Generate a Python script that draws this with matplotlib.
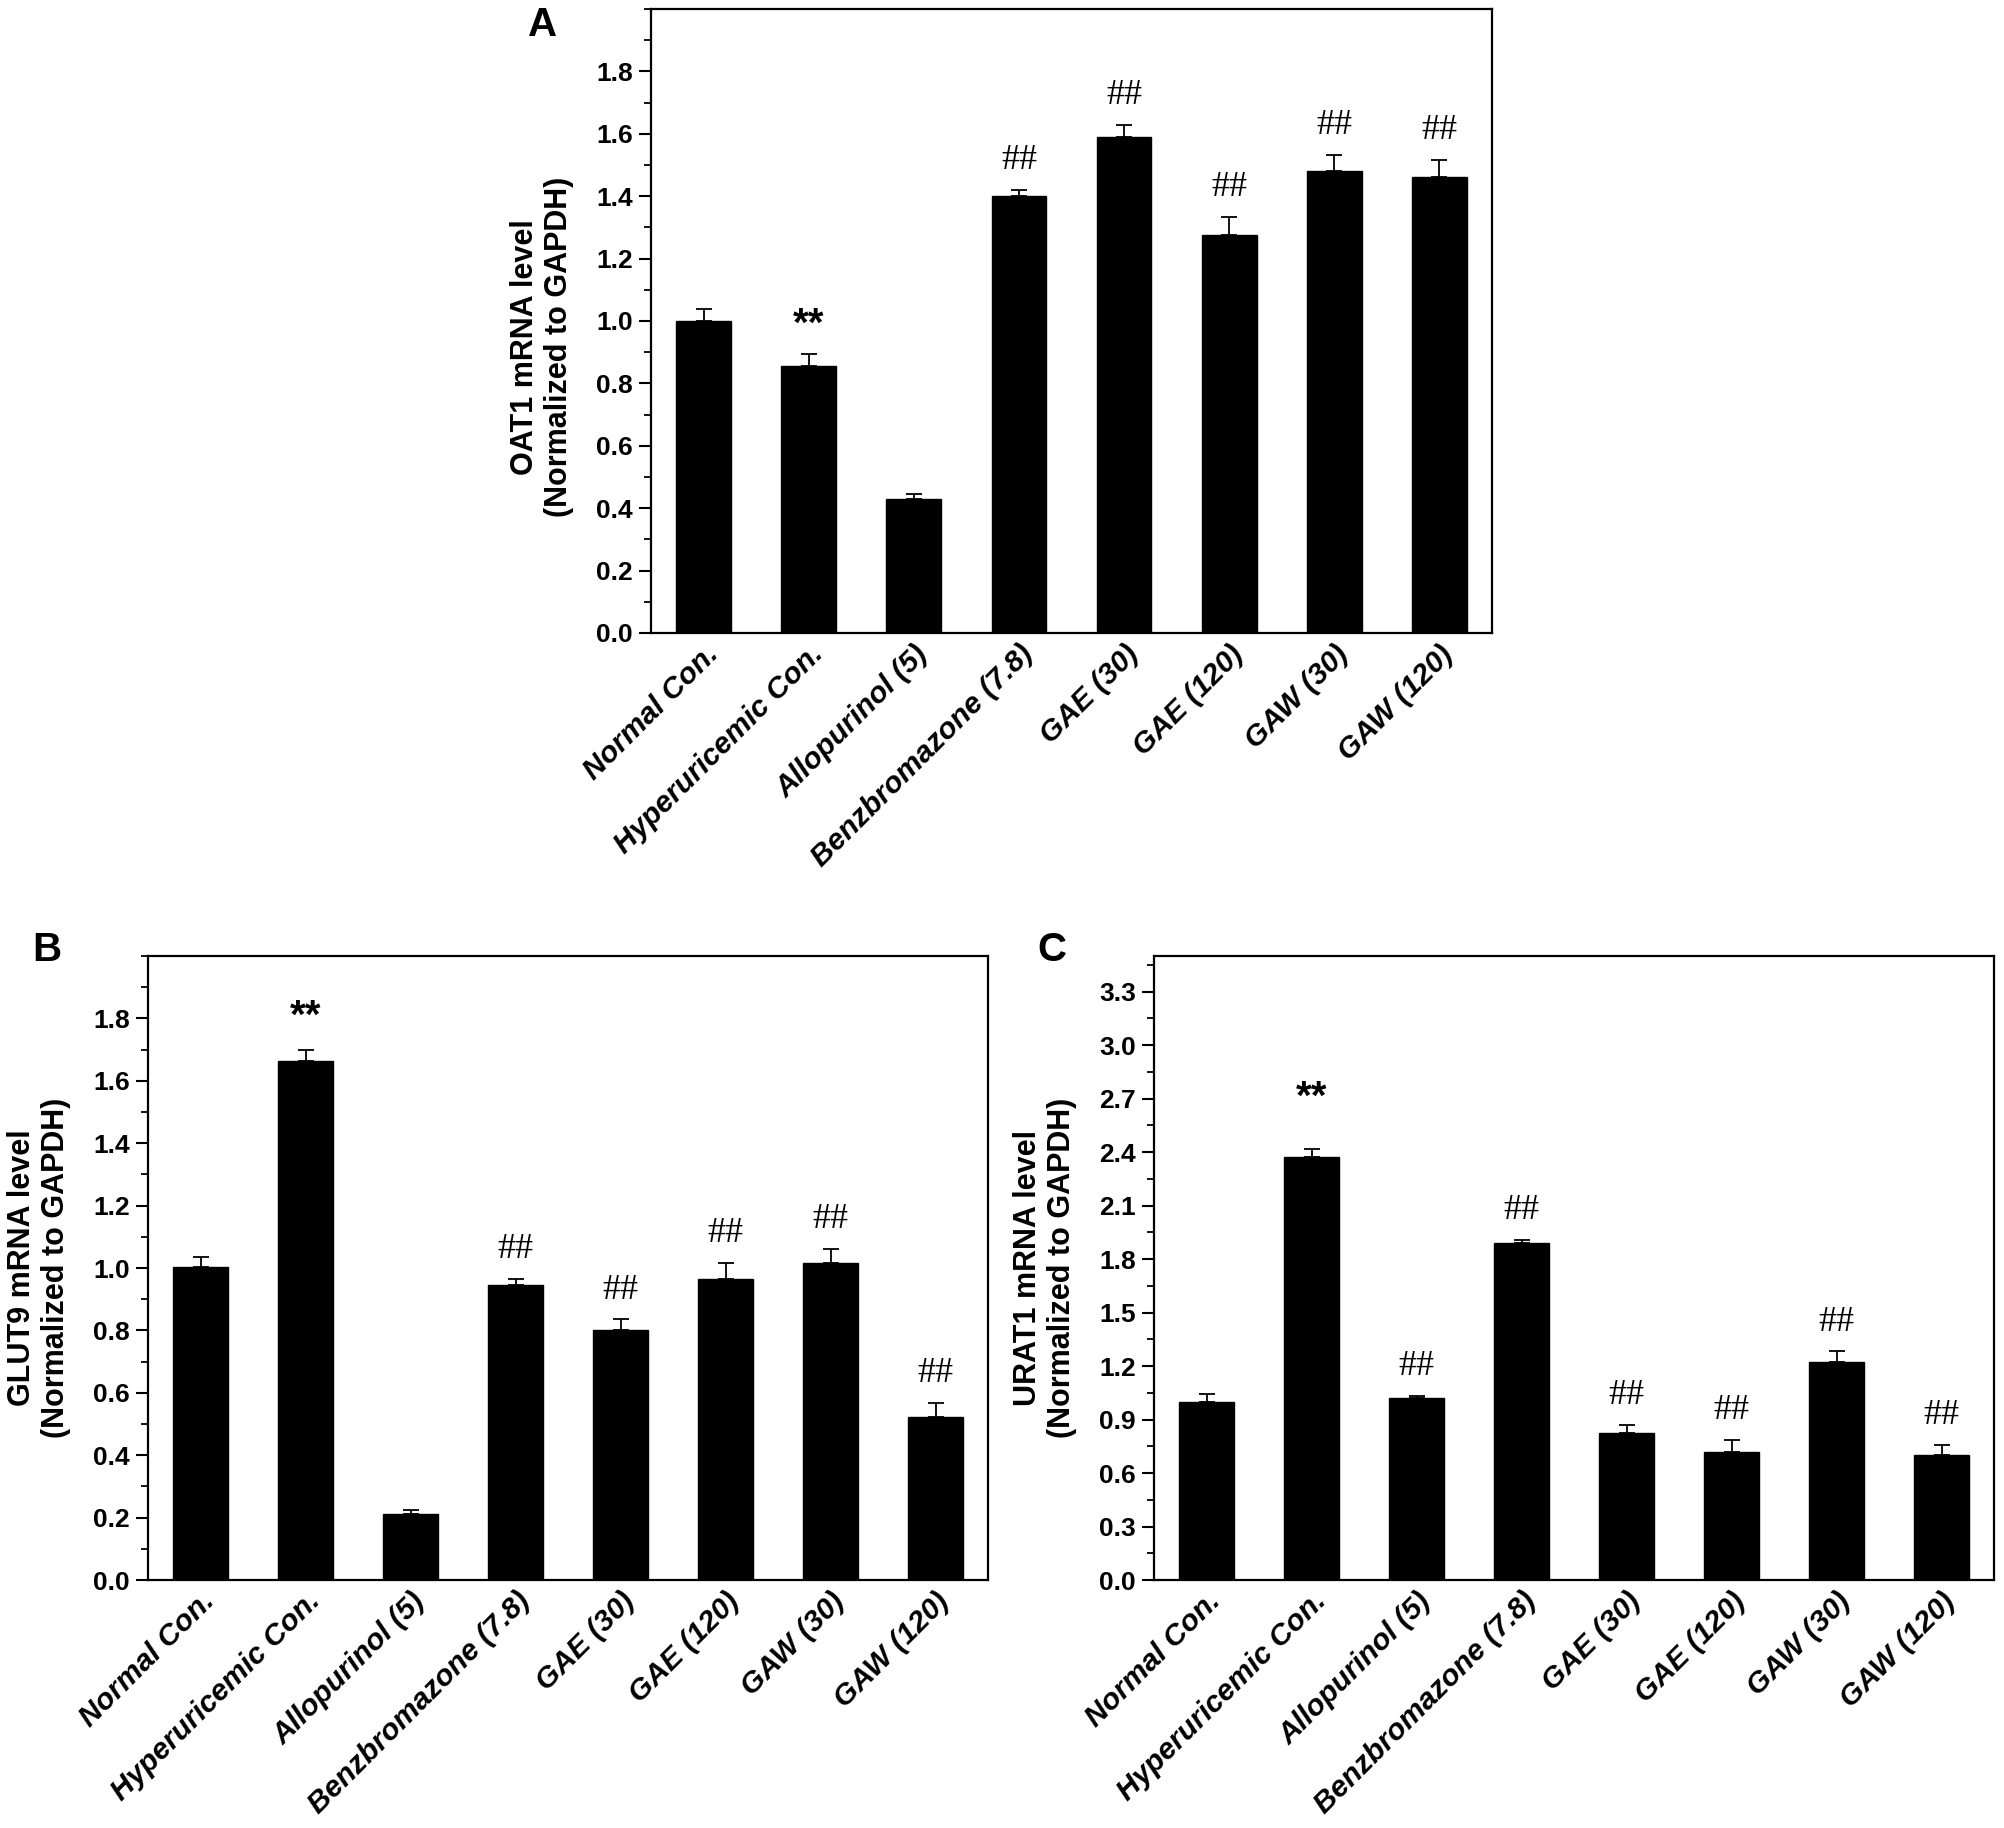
import matplotlib
matplotlib.use("Agg")
import matplotlib.pyplot as plt
from matplotlib.ticker import MultipleLocator, FormatStrFormatter
import numpy as np

groups = ["Normal Con.", "Hyperuricemic Con.", "Allopurinol (5)", "Benzbromazone (7.8)",
          "GAE (30)", "GAE (120)", "GAW (30)", "GAW (120)"]

oat1_mean = [1.00, 0.855, 0.43, 1.40, 1.59, 1.275, 1.48, 1.462]
oat1_err = [0.037, 0.04, 0.017, 0.019, 0.038, 0.058, 0.053, 0.053]
oat1_marks = ["", "**", "", "##", "##", "##", "##", "##"]

glut9_mean = [1.003, 1.665, 0.212, 0.947, 0.80, 0.965, 1.015, 0.524]
glut9_err = [0.031, 0.035, 0.012, 0.019, 0.035, 0.05, 0.045, 0.044]
glut9_marks = ["", "**", "", "##", "##", "##", "##", "##"]

urat1_mean = [0.998, 2.374, 1.02, 1.888, 0.826, 0.72, 1.223, 0.70]
urat1_err = [0.043, 0.046, 0.014, 0.019, 0.045, 0.066, 0.059, 0.06]
urat1_marks = ["", "**", "##", "##", "##", "##", "##", "##"]

W, H = 2004, 1828
fig = plt.figure(figsize=(W / 100, H / 100), dpi=100)

narrow = ["Liberation Sans Narrow", "Liberation Sans", "DejaVu Sans"]
sans = ["Liberation Sans", "DejaVu Sans"]
serif = ["Liberation Serif", "DejaVu Serif"]


def px_axes(l, r, t, b):
    return fig.add_axes([l / W, 1 - b / H, (r - l) / W, (b - t) / H])


def panel(ax, mean, err, marks, ymax, major, ylabel, star_lift=0.0, label_y=0.5):
    x = np.arange(len(groups))
    lower = np.zeros(len(err))
    ax.bar(x, mean, width=0.52, color="black", edgecolor="black", zorder=2)
    ax.errorbar(x, mean, yerr=[lower, err], fmt="none", ecolor="black",
                elinewidth=1.3, capsize=6, capthick=1.3, zorder=3)
    ax.set_xlim(-0.5, len(groups) - 0.5)
    ax.set_ylim(0, ymax)
    ax.yaxis.set_minor_locator(MultipleLocator(major / 2))
    ax.set_yticks(np.arange(0, ymax - 1e-9, major))
    ax.yaxis.set_major_formatter(FormatStrFormatter("%.1f"))
    ax.tick_params(axis="y", which="major", length=9, width=1.5, direction="out", pad=4)
    ax.tick_params(axis="y", which="minor", length=5, width=1.3, direction="out")
    ax.tick_params(axis="x", length=0, pad=5)
    for lab in ax.get_yticklabels():
        lab.set_fontfamily(narrow)
        lab.set_fontweight("bold")
        lab.set_fontsize(19)
    ax.set_xticks(x)
    ax.set_xticklabels(groups, rotation=45, ha="right", rotation_mode="anchor",
                       fontsize=21.5, fontweight="bold", fontstyle="italic", family=sans)
    for s in ax.spines.values():
        s.set_linewidth(1.6)
    ax.set_ylabel(ylabel, fontsize=22, fontweight="bold", family=sans,
                  linespacing=1.15, va="center")
    bbox = ax.get_position()
    ax.yaxis.set_label_coords(-109 / (bbox.width * W), label_y)
    off = 0.047 * ymax
    for i, m in enumerate(marks):
        if not m:
            continue
        y = mean[i] + err[i] + off
        if m == "**":
            ax.text(x[i], y + star_lift * ymax, m, ha="center", va="center",
                    fontsize=29, fontweight="bold", family=sans)
        else:
            ax.text(x[i], y, m, ha="center", va="center", fontsize=26, family=serif)


axA = px_axes(651, 1492, 9, 633)
panel(axA, oat1_mean, oat1_err, oat1_marks, 2.0, 0.2,
      "OAT1 mRNA level\n(Normalized to GAPDH)", label_y=0.458)
axB = px_axes(148, 988, 956, 1580)
panel(axB, glut9_mean, glut9_err, glut9_marks, 2.0, 0.2,
      "GLUT9 mRNA level\n(Normalized to GAPDH)", star_lift=0.005)
axC = px_axes(1154, 1994, 956, 1580)
panel(axC, urat1_mean, urat1_err, urat1_marks, 3.5, 0.3,
      "URAT1 mRNA level\n(Normalized to GAPDH)", star_lift=0.035)

for letter, xp, yp in [("A", 543, 25), ("B", 47, 950), ("C", 1052, 950)]:
    fig.text(xp / W, 1 - yp / H, letter, fontsize=29, fontweight="bold", family=sans,
             ha="center", va="center")

fig.savefig("out.png", dpi=100, facecolor="white")
